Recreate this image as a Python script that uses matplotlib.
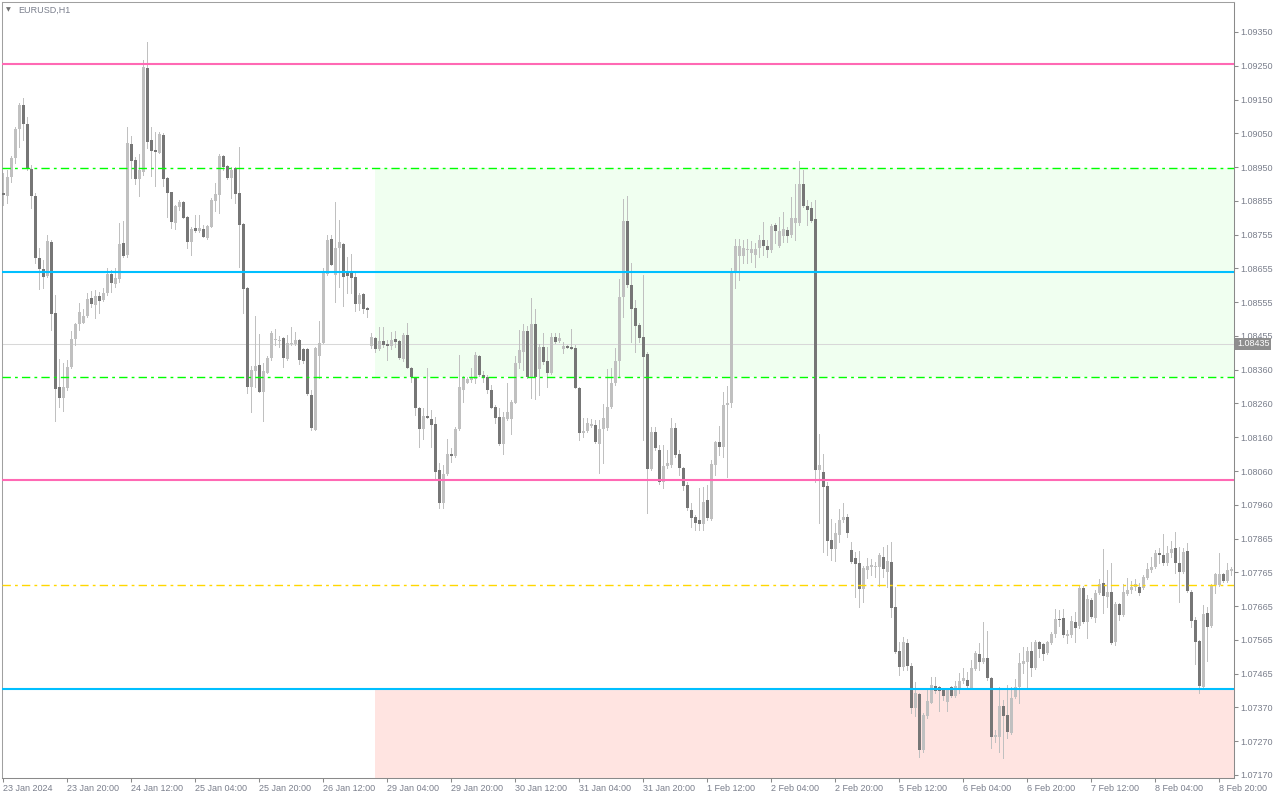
import matplotlib
matplotlib.use('Agg')
import matplotlib.pyplot as plt
from matplotlib.patches import Rectangle
import numpy as np

# EURUSD H1 bars, 23 Jan 04:00 .. 9 Feb
opens = [
    1.08877, 1.08868, 1.08924, 1.08980, 1.09066, 1.09136, 1.09080, 1.08948, 1.08868, 1.08687,
    1.08655, 1.08634, 1.08734, 1.08525, 1.08309, 1.08277, 1.08306, 1.08368, 1.08450, 1.08493,
    1.08496, 1.08516, 1.08570, 1.08549, 1.08575, 1.08564, 1.08584, 1.08640, 1.08610, 1.08626,
    1.08731, 1.08695, 1.09021, 1.08974, 1.08919, 1.08939, 1.09245, 1.09033, 1.09004, 1.08995,
    1.09047, 1.08922, 1.08880, 1.08789, 1.08836, 1.08851, 1.08807, 1.08734, 1.08774, 1.08766,
    1.08772, 1.08746, 1.08777, 1.08854, 1.08871, 1.08986, 1.08956, 1.08922, 1.08951, 1.08877,
    1.08786, 1.08599, 1.08309, 1.08355, 1.08373, 1.08294, 1.08349, 1.08394, 1.08446, 1.08443,
    1.08452, 1.08391, 1.08434, 1.08434, 1.08446, 1.08420, 1.08420, 1.08285, 1.08182, 1.08399,
    1.08437, 1.08640, 1.08743, 1.08637, 1.08717, 1.08728, 1.08646, 1.08643, 1.08632, 1.08552,
    1.08581, 1.08540, 1.08428, 1.08452, 1.08420, 1.08443, 1.08434, 1.08428, 1.08450, 1.08443,
    1.08391, 1.08461, 1.08365, 1.08338, 1.08247, 1.08186, 1.08223, 1.08215, 1.08200, 1.08065,
    1.07968, 1.08053, 1.08112, 1.08106, 1.08186, 1.08300, 1.08320, 1.08329, 1.08332, 1.08399,
    1.08343, 1.08338, 1.08300, 1.08250, 1.08221, 1.08141, 1.08215, 1.08215, 1.08261, 1.08379,
    1.08411, 1.08473, 1.08338, 1.08493, 1.08362, 1.08426, 1.08385, 1.08349, 1.08455, 1.08443,
    1.08420, 1.08428, 1.08426, 1.08423, 1.08306, 1.08173, 1.08179, 1.08194, 1.08197, 1.08141,
    1.08186, 1.08189, 1.08250, 1.08320, 1.08385, 1.08573, 1.08795, 1.08607, 1.08540, 1.08490,
    1.08455, 1.08405, 1.08068, 1.08176, 1.08124, 1.08029, 1.08076, 1.08079, 1.08189, 1.08112,
    1.08071, 1.08020, 1.07947, 1.07927, 1.07918, 1.07906, 1.07977, 1.07921, 1.08079, 1.08147,
    1.08133, 1.08255, 1.08261, 1.08643, 1.08692, 1.08692, 1.08710, 1.08701, 1.08695, 1.08716,
    1.08740, 1.08722, 1.08710, 1.08783, 1.08722, 1.08751, 1.08769, 1.08754, 1.08789, 1.08789,
    1.08904, 1.08839, 1.08834, 1.08801, 1.08065, 1.08059, 1.08018, 1.07859, 1.07833, 1.07874,
    1.07918, 1.07927, 1.07830, 1.07806, 1.07792, 1.07716, 1.07771, 1.07780, 1.07780, 1.07780,
    1.07810, 1.07766, 1.07795, 1.07663, 1.07534, 1.07487, 1.07557, 1.07490, 1.07367, 1.07408,
    1.07243, 1.07343, 1.07381, 1.07431, 1.07428, 1.07422, 1.07384, 1.07428, 1.07402, 1.07425,
    1.07446, 1.07449, 1.07425, 1.07481, 1.07525, 1.07501, 1.07513, 1.07455, 1.07282, 1.07282,
    1.07372, 1.07346, 1.07293, 1.07399, 1.07428, 1.07495, 1.07501, 1.07534, 1.07484, 1.07560,
    1.07554, 1.07528, 1.07557, 1.07583, 1.07628, 1.07631, 1.07578, 1.07581, 1.07619, 1.07607,
    1.07719, 1.07619, 1.07683, 1.07631, 1.07704, 1.07733, 1.07692, 1.07707, 1.07560, 1.07672,
    1.07640, 1.07701, 1.07713, 1.07721, 1.07721, 1.07719, 1.07748, 1.07771, 1.07780, 1.07821,
    1.07815, 1.07792, 1.07821, 1.07836, 1.07792, 1.07766, 1.07827, 1.07707, 1.07625, 1.07563,
    1.07428, 1.07645, 1.07607, 1.07727, 1.07727, 1.07760, 1.07739, 1.07768,
]
highs = [
    1.08936, 1.08945, 1.08986, 1.09071, 1.09142, 1.09156, 1.09100, 1.08959, 1.08877, 1.08717,
    1.08681, 1.08754, 1.08740, 1.08578, 1.08391, 1.08379, 1.08388, 1.08473, 1.08496, 1.08555,
    1.08538, 1.08584, 1.08590, 1.08593, 1.08587, 1.08599, 1.08658, 1.08652, 1.08658, 1.08789,
    1.08795, 1.09071, 1.09044, 1.08984, 1.08992, 1.09268, 1.09321, 1.09071, 1.09056, 1.09056,
    1.09053, 1.08924, 1.08880, 1.08842, 1.08857, 1.08854, 1.08810, 1.08777, 1.08813, 1.08813,
    1.08783, 1.08783, 1.08863, 1.08907, 1.08992, 1.08989, 1.08959, 1.08954, 1.08954, 1.09012,
    1.08789, 1.08602, 1.08370, 1.08516, 1.08464, 1.08379, 1.08399, 1.08473, 1.08479, 1.08458,
    1.08455, 1.08461, 1.08484, 1.08470, 1.08450, 1.08423, 1.08423, 1.08300, 1.08426, 1.08502,
    1.08658, 1.08754, 1.08754, 1.08851, 1.08798, 1.08731, 1.08690, 1.08698, 1.08643, 1.08584,
    1.08584, 1.08544, 1.08467, 1.08455, 1.08484, 1.08484, 1.08446, 1.08470, 1.08473, 1.08446,
    1.08467, 1.08496, 1.08368, 1.08338, 1.08250, 1.08247, 1.08365, 1.08241, 1.08221, 1.08085,
    1.08079, 1.08156, 1.08130, 1.08192, 1.08402, 1.08341, 1.08338, 1.08365, 1.08411, 1.08402,
    1.08355, 1.08343, 1.08314, 1.08255, 1.08247, 1.08235, 1.08320, 1.08270, 1.08399, 1.08476,
    1.08493, 1.08487, 1.08570, 1.08538, 1.08434, 1.08467, 1.08426, 1.08467, 1.08467, 1.08467,
    1.08440, 1.08431, 1.08479, 1.08431, 1.08309, 1.08218, 1.08218, 1.08215, 1.08212, 1.08212,
    1.08258, 1.08361, 1.08365, 1.08423, 1.08626, 1.08860, 1.08868, 1.08672, 1.08564, 1.08496,
    1.08637, 1.08411, 1.08192, 1.08192, 1.08138, 1.08138, 1.08124, 1.08218, 1.08203, 1.08124,
    1.08074, 1.08029, 1.07968, 1.07933, 1.08012, 1.08015, 1.08020, 1.08094, 1.08150, 1.08194,
    1.08294, 1.08312, 1.08658, 1.08743, 1.08743, 1.08740, 1.08743, 1.08737, 1.08731, 1.08754,
    1.08792, 1.08740, 1.08786, 1.08789, 1.08807, 1.08822, 1.08777, 1.08865, 1.08904, 1.08971,
    1.08945, 1.08857, 1.08851, 1.08857, 1.08170, 1.08112, 1.08029, 1.07921, 1.07909, 1.07950,
    1.07968, 1.07935, 1.07853, 1.07824, 1.07827, 1.07783, 1.07806, 1.07804, 1.07795, 1.07821,
    1.07839, 1.07845, 1.07853, 1.07721, 1.07560, 1.07575, 1.07569, 1.07498, 1.07443, 1.07411,
    1.07352, 1.07422, 1.07457, 1.07457, 1.07431, 1.07425, 1.07425, 1.07431, 1.07446, 1.07469,
    1.07484, 1.07472, 1.07507, 1.07534, 1.07557, 1.07619, 1.07592, 1.07457, 1.07302, 1.07428,
    1.07390, 1.07434, 1.07428, 1.07452, 1.07528, 1.07545, 1.07545, 1.07560, 1.07566, 1.07563,
    1.07557, 1.07563, 1.07589, 1.07657, 1.07654, 1.07657, 1.07595, 1.07636, 1.07648, 1.07724,
    1.07724, 1.07698, 1.07689, 1.07713, 1.07745, 1.07833, 1.07771, 1.07792, 1.07677, 1.07675,
    1.07730, 1.07748, 1.07739, 1.07745, 1.07733, 1.07757, 1.07792, 1.07810, 1.07830, 1.07836,
    1.07877, 1.07842, 1.07856, 1.07883, 1.07839, 1.07836, 1.07850, 1.07713, 1.07634, 1.07566,
    1.07668, 1.07663, 1.07730, 1.07762, 1.07821, 1.07762, 1.07792, 1.07780,
]
lows = [
    1.08842, 1.08848, 1.08910, 1.08965, 1.09012, 1.09033, 1.08945, 1.08834, 1.08672, 1.08596,
    1.08599, 1.08632, 1.08476, 1.08209, 1.08250, 1.08238, 1.08300, 1.08365, 1.08431, 1.08476,
    1.08496, 1.08514, 1.08544, 1.08511, 1.08525, 1.08561, 1.08578, 1.08587, 1.08602, 1.08616,
    1.08690, 1.08690, 1.08922, 1.08904, 1.08868, 1.08930, 1.09010, 1.08927, 1.08898, 1.08995,
    1.08898, 1.08807, 1.08774, 1.08772, 1.08828, 1.08804, 1.08717, 1.08695, 1.08763, 1.08763,
    1.08748, 1.08743, 1.08777, 1.08825, 1.08819, 1.08945, 1.08919, 1.08863, 1.08848, 1.08661,
    1.08525, 1.08291, 1.08235, 1.08309, 1.08294, 1.08209, 1.08349, 1.08388, 1.08431, 1.08426,
    1.08368, 1.08388, 1.08431, 1.08431, 1.08376, 1.08379, 1.08285, 1.08182, 1.08182, 1.08335,
    1.08437, 1.08637, 1.08666, 1.08558, 1.08602, 1.08546, 1.08584, 1.08584, 1.08531, 1.08534,
    1.08525, 1.08514, 1.08423, 1.08411, 1.08417, 1.08426, 1.08388, 1.08420, 1.08426, 1.08391,
    1.08385, 1.08365, 1.08323, 1.08226, 1.08133, 1.08156, 1.08218, 1.08133, 1.08035, 1.07954,
    1.07954, 1.08050, 1.08088, 1.08103, 1.08182, 1.08264, 1.08320, 1.08323, 1.08320, 1.08341,
    1.08323, 1.08291, 1.08247, 1.08203, 1.08138, 1.08112, 1.08212, 1.08170, 1.08261, 1.08365,
    1.08358, 1.08335, 1.08277, 1.08273, 1.08285, 1.08376, 1.08309, 1.08346, 1.08437, 1.08440,
    1.08408, 1.08423, 1.08420, 1.08306, 1.08153, 1.08162, 1.08176, 1.08192, 1.08144, 1.08056,
    1.08085, 1.08182, 1.08247, 1.08314, 1.08338, 1.08514, 1.08602, 1.08440, 1.08411, 1.08440,
    1.08153, 1.07938, 1.08065, 1.08124, 1.08023, 1.08012, 1.08071, 1.08074, 1.08103, 1.08050,
    1.08006, 1.07947, 1.07898, 1.07889, 1.07889, 1.07889, 1.07918, 1.07918, 1.08050, 1.08109,
    1.08103, 1.08044, 1.08250, 1.08599, 1.08622, 1.08672, 1.08672, 1.08675, 1.08661, 1.08690,
    1.08695, 1.08690, 1.08704, 1.08731, 1.08719, 1.08734, 1.08734, 1.08748, 1.08740, 1.08783,
    1.08836, 1.08783, 1.08792, 1.08029, 1.07909, 1.07824, 1.07815, 1.07801, 1.07798, 1.07853,
    1.07912, 1.07868, 1.07792, 1.07692, 1.07663, 1.07677, 1.07748, 1.07757, 1.07751, 1.07724,
    1.07751, 1.07721, 1.07634, 1.07528, 1.07463, 1.07478, 1.07478, 1.07352, 1.07343, 1.07223,
    1.07237, 1.07337, 1.07381, 1.07411, 1.07358, 1.07390, 1.07358, 1.07399, 1.07399, 1.07411,
    1.07440, 1.07428, 1.07422, 1.07478, 1.07478, 1.07498, 1.07449, 1.07249, 1.07267, 1.07237,
    1.07220, 1.07279, 1.07290, 1.07396, 1.07381, 1.07469, 1.07428, 1.07460, 1.07481, 1.07516,
    1.07507, 1.07525, 1.07554, 1.07575, 1.07607, 1.07575, 1.07557, 1.07575, 1.07560, 1.07601,
    1.07616, 1.07572, 1.07631, 1.07619, 1.07701, 1.07645, 1.07663, 1.07554, 1.07551, 1.07625,
    1.07637, 1.07698, 1.07704, 1.07713, 1.07698, 1.07716, 1.07745, 1.07766, 1.07777, 1.07792,
    1.07786, 1.07786, 1.07810, 1.07762, 1.07677, 1.07762, 1.07707, 1.07604, 1.07495, 1.07411,
    1.07422, 1.07504, 1.07604, 1.07704, 1.07724, 1.07736, 1.07736, 1.07757,
]
closes = [
    1.08871, 1.08924, 1.08980, 1.09066, 1.09136, 1.09080, 1.08948, 1.08868, 1.08687, 1.08655,
    1.08632, 1.08737, 1.08522, 1.08303, 1.08277, 1.08309, 1.08368, 1.08450, 1.08493, 1.08528,
    1.08516, 1.08567, 1.08552, 1.08575, 1.08561, 1.08584, 1.08640, 1.08613, 1.08628, 1.08728,
    1.08692, 1.09024, 1.08971, 1.08919, 1.08945, 1.09248, 1.09027, 1.09001, 1.08998, 1.09050,
    1.08919, 1.08877, 1.08792, 1.08839, 1.08851, 1.08804, 1.08734, 1.08772, 1.08766, 1.08774,
    1.08748, 1.08780, 1.08857, 1.08874, 1.08986, 1.08954, 1.08922, 1.08945, 1.08874, 1.08783,
    1.08596, 1.08309, 1.08358, 1.08370, 1.08294, 1.08355, 1.08394, 1.08467, 1.08450, 1.08446,
    1.08394, 1.08437, 1.08437, 1.08446, 1.08388, 1.08385, 1.08288, 1.08189, 1.08423, 1.08437,
    1.08643, 1.08740, 1.08666, 1.08717, 1.08734, 1.08632, 1.08634, 1.08628, 1.08552, 1.08578,
    1.08537, 1.08534, 1.08455, 1.08420, 1.08443, 1.08431, 1.08428, 1.08446, 1.08440, 1.08394,
    1.08461, 1.08365, 1.08338, 1.08247, 1.08186, 1.08223, 1.08218, 1.08197, 1.08059, 1.07968,
    1.08053, 1.08112, 1.08106, 1.08186, 1.08309, 1.08338, 1.08332, 1.08338, 1.08402, 1.08343,
    1.08335, 1.08300, 1.08247, 1.08218, 1.08141, 1.08221, 1.08235, 1.08264, 1.08379, 1.08417,
    1.08473, 1.08338, 1.08493, 1.08338, 1.08426, 1.08382, 1.08349, 1.08455, 1.08440, 1.08452,
    1.08428, 1.08423, 1.08420, 1.08306, 1.08173, 1.08179, 1.08203, 1.08200, 1.08147, 1.08186,
    1.08218, 1.08250, 1.08320, 1.08385, 1.08573, 1.08795, 1.08607, 1.08537, 1.08487, 1.08452,
    1.08397, 1.08068, 1.08176, 1.08130, 1.08029, 1.08076, 1.08085, 1.08189, 1.08109, 1.08071,
    1.08018, 1.07954, 1.07924, 1.07909, 1.07906, 1.07971, 1.07924, 1.08082, 1.08147, 1.08133,
    1.08255, 1.08261, 1.08643, 1.08722, 1.08722, 1.08716, 1.08713, 1.08713, 1.08713, 1.08740,
    1.08722, 1.08710, 1.08780, 1.08766, 1.08766, 1.08772, 1.08751, 1.08804, 1.08804, 1.08904,
    1.08839, 1.08828, 1.08795, 1.08065, 1.08079, 1.08015, 1.07856, 1.07833, 1.07880, 1.07918,
    1.07927, 1.07880, 1.07795, 1.07789, 1.07716, 1.07777, 1.07783, 1.07786, 1.07783, 1.07815,
    1.07774, 1.07798, 1.07660, 1.07531, 1.07487, 1.07560, 1.07490, 1.07367, 1.07411, 1.07243,
    1.07346, 1.07387, 1.07434, 1.07416, 1.07416, 1.07402, 1.07422, 1.07402, 1.07431, 1.07446,
    1.07455, 1.07431, 1.07484, 1.07528, 1.07501, 1.07513, 1.07455, 1.07282, 1.07287, 1.07372,
    1.07343, 1.07296, 1.07396, 1.07428, 1.07498, 1.07504, 1.07534, 1.07484, 1.07560, 1.07540,
    1.07525, 1.07560, 1.07583, 1.07628, 1.07625, 1.07581, 1.07583, 1.07622, 1.07601, 1.07719,
    1.07619, 1.07686, 1.07634, 1.07704, 1.07730, 1.07695, 1.07707, 1.07557, 1.07672, 1.07640,
    1.07707, 1.07713, 1.07721, 1.07730, 1.07704, 1.07751, 1.07774, 1.07780, 1.07821, 1.07815,
    1.07792, 1.07821, 1.07833, 1.07792, 1.07766, 1.07824, 1.07710, 1.07622, 1.07560, 1.07431,
    1.07642, 1.07604, 1.07727, 1.07760, 1.07760, 1.07739, 1.07771, 1.07774,
]

time_labels = ['23 Jan 2024', '23 Jan 20:00', '24 Jan 12:00', '25 Jan 04:00', '25 Jan 20:00',
               '26 Jan 12:00', '29 Jan 04:00', '29 Jan 20:00', '30 Jan 12:00', '31 Jan 04:00',
               '31 Jan 20:00', '1 Feb 12:00', '2 Feb 04:00', '2 Feb 20:00', '5 Feb 12:00',
               '6 Feb 04:00', '6 Feb 20:00', '7 Feb 12:00', '8 Feb 04:00', '8 Feb 20:00']
label_step = 16

price_labels = ['1.07170', '1.07270', '1.07370', '1.07465', '1.07565', '1.07665', '1.07765',
                '1.07865', '1.07960', '1.08060', '1.08160', '1.08260', '1.08360', '1.08455',
                '1.08555', '1.08655', '1.08755', '1.08855', '1.08950', '1.09050', '1.09150',
                '1.09250', '1.09350']

# levels drawn on the chart
pink_hi, pink_lo = 1.09256, 1.08034
green_hi, green_lo = 1.08950, 1.08337
blue_hi, blue_lo = 1.08647, 1.07422
gold_mid = 1.07727
bid = 1.08435
zone_start = 92.9

plt.rcParams['font.family'] = ['Liberation Sans', 'DejaVu Sans']
plt.rcParams['lines.scale_dashes'] = False

W, H = 1280, 800
fig = plt.figure(figsize=(W / 100, H / 100), dpi=100)
ax = fig.add_axes([2 / W, 22 / H, 1232 / W, 776 / H])

o = np.array(opens)
h = np.array(highs)
l = np.array(lows)
c = np.array(closes)
x = np.arange(len(c))

ax.set_xlim(-0.3, 307.7)
ax.set_ylim(1.07161, 1.09438)

# zones
ax.add_patch(Rectangle((zone_start, green_lo), 400, green_hi - green_lo,
                       facecolor='#f0fff0', edgecolor='none', zorder=0.5))
ax.add_patch(Rectangle((zone_start, 1.0700), 400, blue_lo - 1.0700,
                       facecolor='#ffe4e1', edgecolor='none', zorder=0.5))

ax.axhline(bid, color='#d8d8d8', lw=0.75, zorder=1)

# candles
up = c > o
wick_lo = np.minimum(l, np.minimum(o, c))
wick_hi = np.maximum(h, np.maximum(o, c))
ax.vlines(x, wick_lo, wick_hi, colors='#c0c0c0', lw=0.5, antialiased=False, zorder=2)
body_lo = np.minimum(o, c)
body_h = np.maximum(np.abs(c - o), 0.00003)
ax.bar(x[up], body_h[up], 0.75, bottom=body_lo[up], color='#c0c0c0',
       linewidth=0, antialiased=False, zorder=3)
ax.bar(x[~up], body_h[~up], 0.75, bottom=body_lo[~up], color='#767676',
       linewidth=0, antialiased=False, zorder=3)

# horizontal levels
dashdot = (0, (6, 3, 2, 3))
ax.axhline(pink_hi, color='#ff69b4', lw=1.5, zorder=4)
ax.axhline(pink_lo, color='#ff69b4', lw=1.5, zorder=4)
ax.axhline(blue_hi, color='#00bfff', lw=1.5, zorder=4)
ax.axhline(blue_lo, color='#00bfff', lw=1.5, zorder=4)
ax.axhline(green_hi, color='#00ff00', lw=1.0, ls=dashdot, zorder=4)
ax.axhline(green_lo, color='#00ff00', lw=1.0, ls=dashdot, zorder=4)
ax.axhline(gold_mid, color='#ffd700', lw=1.0, ls=dashdot, zorder=4)

# axes styling
text_col = '#7a7f8c'
ax.yaxis.tick_right()
ax.set_yticks(np.linspace(1.07170, 1.09350, len(price_labels)), price_labels)
ax.set_xticks(x[::label_step], time_labels)
for lbl in ax.get_xticklabels():
    lbl.set_horizontalalignment('left')
ax.tick_params(axis='both', direction='out', length=3, width=0.75, color='#8a8a8a',
               labelcolor=text_col, labelsize=6.5, pad=1.5)
for side in ['left', 'top']:
    ax.spines[side].set_color('#a0a0a0')
    ax.spines[side].set_linewidth(0.75)
for side in ['right', 'bottom']:
    ax.spines[side].set_color('#8a8a8a')
    ax.spines[side].set_linewidth(0.75)

# title and current price tag
fig.text(6 / W, 1 - 10 / H, '\u25bc', fontsize=4.5, color='#707070', va='center',
         family='DejaVu Sans')
fig.text(18 / W, 1 - 10 / H, 'EURUSD,H1', fontsize=6.5, color=text_col, va='center')
ax.text(1.0025, bid, '1.08435', transform=ax.get_yaxis_transform(), fontsize=6.5,
        color='white', va='center', ha='left', clip_on=False, zorder=10,
        bbox=dict(boxstyle='square,pad=0.2', fc='#8e8e8e', ec='none'))

fig.savefig('out.png', dpi=100)
